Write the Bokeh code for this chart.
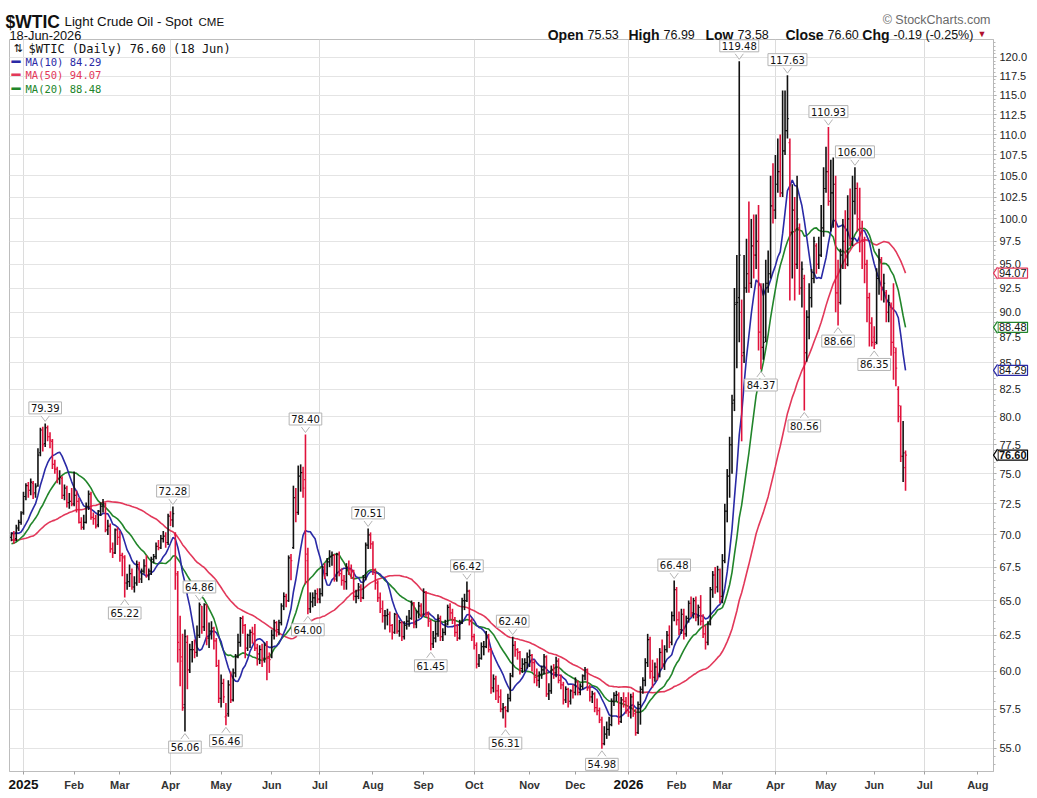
import numpy as np
import pandas as pd
from bokeh.plotting import figure
from bokeh.models import FixedTicker, Label, ColumnDataSource, PrintfTickFormatter, Range1d
from bokeh.core.properties import value
from bokeh.embed import file_html
from bokeh.resources import INLINE

# ---------------------------------------------------------------- calendar
market_holidays = [
    "2024-12-25", "2025-01-01", "2025-01-20", "2025-02-17", "2025-04-18",
    "2025-05-26", "2025-06-19", "2025-07-04", "2025-09-01", "2025-11-27",
    "2025-12-25", "2026-01-01", "2026-01-19", "2026-02-16", "2026-04-03",
    "2026-05-25", "2026-06-19", "2026-07-03",
]
sessions = pd.bdate_range("2024-12-24", "2026-08-31", freq="C", holidays=market_holidays)

# closes before the first bar (feed the moving averages)
warmup_closes = [
    73.8, 70.6, 70.4, 70.7, 69.2, 70.6, 72.1, 70.8, 70.2, 71.8, 67.4, 67.2, 68.6, 69.3,
    69.5, 71.5, 72.0, 71.7, 72.4, 70.4, 68.0, 68.1, 68.4, 68.7, 67.0, 69.2, 69.4, 68.9,
    70.1, 71.2, 68.9, 68.8, 68.7, 68.0,
    68.1, 69.9, 68.5, 68.3, 67.2, 68.4, 68.6, 70.3, 70.0, 71.3, 70.7, 70.1, 70.6, 69.9,
    69.5, 69.2,
]

# ---------------------------------------------------------------- daily OHLC ($WTIC)
opens = [
    69.8, 70.0, 69.7, 70.5, 71.0,
    71.8, 73.1, 74.0, 73.6, 74.2, 73.4, 74.0, 76.8, 78.8, 77.6, 79.0, 78.2, 77.8, 75.8, 75.4, 74.6, 74.6, 73.2, 73.8, 72.6, 72.7,
    72.5, 73.2, 72.7, 71.0, 70.6, 71.0, 72.3, 73.3, 71.4, 71.3, 70.8, 71.9, 72.3, 72.5, 70.4, 70.7, 68.9, 68.6, 70.4,
    69.8, 68.4, 68.2, 66.3, 66.4, 67.0, 66.0, 66.3, 67.7, 66.6, 67.2, 67.6, 66.9, 67.2, 68.1, 68.3, 69.1, 69.0, 69.7, 69.9, 69.4,
    71.5, 71.2, 70.0, 66.9, 61.5, 61.0, 57.8, 62.0, 60.1, 61.5, 61.5, 61.3, 62.5, 64.6, 63.1, 64.7, 62.3, 62.8, 63.0, 62.1, 60.4,
    58.2, 59.2, 57.0, 57.2, 59.1, 58.1, 59.9, 61.0, 62.0, 63.7, 63.2, 61.6, 62.5, 62.7, 62.6, 61.6, 61.2, 61.5, 60.9, 61.8, 60.9,
    61.0, 62.5, 63.4, 62.9, 63.4, 64.6, 65.3, 65.0, 68.2, 69.0, 73.0, 71.8, 74.8, 75.1, 74.5, 68.0, 64.4, 64.9, 65.2, 65.5,
    65.1, 65.5, 67.5, 67.0, 67.9, 68.3, 68.4, 66.6, 68.5, 67.0, 66.5, 66.4, 67.5, 67.3, 67.2, 65.3, 65.3, 66.0, 65.2, 66.7, 69.2, 70.0,
    69.3, 67.3, 66.3, 65.2, 64.4, 63.9, 63.9, 64.0, 63.2, 62.7, 64.0, 62.8, 63.4, 62.4, 63.2, 63.5, 63.7, 64.8, 63.3, 64.2, 64.6,
    64.0, 65.6, 64.0, 63.5, 61.9, 62.3, 62.6, 63.7, 62.4, 62.7, 63.3, 64.5, 64.1, 63.6, 62.7, 62.3, 63.4, 65.0, 65.0, 65.7, 63.5,
    62.4, 61.8, 60.5, 60.9, 61.7, 61.7, 62.5, 61.5, 58.9, 59.5, 58.7, 58.3, 57.5, 57.6, 57.4, 58.2, 59.7, 61.8, 61.5, 61.3, 60.2, 60.5, 60.6,
    61.0, 61.1, 60.6, 59.6, 59.4, 59.8, 60.1, 61.0, 58.5, 58.7, 60.1, 59.9, 60.7, 59.4, 59.1, 58.1, 58.8, 58.0, 58.7,
    58.6, 59.3, 58.6, 59.0, 59.7, 60.1, 58.9, 58.3, 58.5, 57.6, 57.4, 56.8, 55.3, 55.9, 56.2, 56.5, 58.0, 58.4, 58.4, 56.7, 58.1, 58.0,
    57.4, 57.3, 58.3, 57.2, 56.0, 57.8, 58.8, 59.4, 60.6, 62.2, 60.0, 59.6, 60.3, 59.8, 61.3, 60.5, 61.5, 62.5, 62.0, 63.9,
    65.8, 63.6, 62.9, 64.0, 62.6, 63.7, 64.8, 64.1, 65.0, 63.8, 64.5, 63.5, 62.6, 62.0, 63.3, 65.8, 66.9, 66.0, 67.3,
    65.3, 68.0, 71.9, 74.8, 77.5, 81.5, 91.0, 91.5, 90.0, 86.0, 92.5, 94.0, 93.0, 97.0, 96.0, 97.5, 88.0, 86.5, 87.5, 93.0, 94.0, 101.5,
    101.0, 104.0, 105.5, 103.0, 108.0, 110.5, 109.0, 98.5, 101.0, 95.0, 99.0, 92.5, 93.5, 86.0, 89.5, 91.5, 93.5, 97.0, 95.0, 96.0, 99.0,
    103.5, 105.5, 102.0, 103.0, 104.0, 92.0, 91.0, 96.0, 97.5, 95.0, 100.0, 97.5, 102.0, 103.5, 100.0, 98.5, 97.5, 95.0, 91.5, 88.9,
    87.5, 87.0, 93.5, 95.5, 92.5, 92.0, 90.0, 90.5, 87.0, 86.0, 82.5, 80.0, 76.5, 75.53,
]
highs = [
    70.2, 70.3, 70.8, 71.2, 71.9,
    73.5, 74.2, 74.3, 74.6, 74.4, 74.2, 77.2, 79.0, 79.1, 79.39, 79.2, 78.6, 78.0, 76.2, 75.6, 75.3, 74.8, 74.1, 74.0, 73.4, 73.8,
    75.2, 73.6, 73.0, 71.4, 71.6, 72.6, 73.6, 73.5, 71.8, 71.6, 72.0, 72.6, 72.9, 72.6, 71.2, 70.9, 69.4, 70.5, 70.6,
    70.3, 68.6, 68.4, 67.0, 67.7, 67.4, 66.8, 68.0, 67.9, 67.4, 68.1, 68.4, 67.4, 68.3, 68.5, 69.4, 69.6, 70.0, 70.3, 70.2, 71.7,
    71.9, 72.28, 70.2, 67.2, 63.9, 62.6, 62.9, 62.5, 61.9, 62.1, 62.2, 63.2, 64.86, 64.6, 64.8, 64.7, 63.4, 63.5, 63.1, 62.3, 60.8,
    59.8, 59.5, 57.9, 59.4, 60.0, 60.2, 61.2, 62.6, 63.8, 63.9, 63.3, 62.6, 62.9, 63.1, 63.3, 61.9, 61.8, 61.9, 62.0, 62.1, 61.3,
    62.9, 63.6, 63.5, 63.6, 64.8, 65.6, 65.5, 68.4, 68.5, 74.0, 73.8, 75.7, 75.8, 75.6, 78.40, 69.0, 65.6, 65.6, 65.8, 65.9,
    65.9, 67.6, 67.8, 68.2, 68.8, 68.7, 68.5, 68.6, 68.7, 67.4, 66.9, 67.8, 68.0, 67.7, 67.3, 65.8, 66.3, 66.2, 66.9, 69.4, 70.51, 70.2,
    69.5, 67.4, 66.5, 65.6, 65.0, 64.3, 64.4, 64.2, 63.3, 64.1, 64.0, 63.6, 63.5, 63.5, 63.9, 64.3, 65.0, 64.9, 64.3, 64.9, 64.8,
    65.9, 65.7, 64.2, 63.6, 62.8, 63.5, 64.0, 63.9, 63.0, 63.6, 64.7, 64.8, 64.4, 63.8, 63.3, 63.6, 65.2, 65.5, 66.42, 65.8, 63.7,
    62.6, 62.0, 61.2, 62.0, 62.1, 62.8, 62.6, 61.6, 59.8, 59.7, 59.1, 58.8, 57.9, 57.7, 58.5, 59.9, 62.40, 62.1, 61.6, 61.4, 60.9, 60.9, 61.3,
    61.5, 61.2, 60.8, 60.2, 60.0, 60.4, 61.2, 61.1, 59.2, 60.4, 60.5, 61.0, 60.9, 59.8, 59.3, 59.0, 58.9, 58.8, 59.1,
    59.6, 59.4, 59.2, 59.8, 60.3, 60.2, 59.1, 58.7, 58.6, 58.2, 57.6, 57.0, 56.4, 56.7, 57.0, 58.2, 58.6, 58.7, 58.6, 58.3, 58.6, 58.3,
    58.6, 58.5, 58.6, 57.5, 58.0, 59.0, 59.6, 60.9, 62.6, 62.4, 60.8, 60.6, 60.9, 61.6, 62.2, 61.8, 62.8, 63.2, 64.2, 66.48,
    66.0, 64.2, 64.4, 64.4, 63.9, 65.0, 65.3, 65.2, 65.3, 64.7, 65.4, 64.0, 63.2, 63.5, 66.0, 67.2, 67.5, 67.6, 67.4,
    68.5, 72.5, 75.4, 78.2, 82.0, 92.5, 96.0, 119.48, 91.3, 96.0, 97.8, 102.0, 100.0, 100.5, 100.5, 101.6, 93.0, 93.0, 95.5, 96.5, 105.0, 106.5,
    107.5, 109.5, 110.0, 115.6, 115.6, 117.63, 109.5, 104.0, 102.5, 105.0, 99.5, 95.3, 93.9, 90.2, 93.0, 94.5, 98.0, 97.3, 98.0, 101.6, 106.0,
    108.5, 110.93, 106.9, 107.2, 105.0, 95.5, 96.7, 100.0, 101.0, 102.7, 103.5, 105.0, 106.00, 104.2, 103.6, 99.8, 98.0, 95.5, 92.0, 89.5,
    88.6, 94.6, 96.7, 95.8, 94.0, 92.3, 91.8, 91.0, 93.0, 86.5, 82.8, 81.0, 79.6, 76.99,
]
lows = [
    69.5, 69.3, 69.5, 70.3, 70.8,
    71.6, 72.8, 73.0, 73.2, 72.9, 73.0, 73.9, 76.5, 76.9, 77.3, 77.8, 77.2, 75.4, 75.0, 74.2, 74.1, 72.9, 72.8, 72.2, 72.1, 72.3,
    72.3, 71.8, 70.9, 70.4, 70.4, 70.9, 72.0, 71.2, 70.8, 70.5, 70.6, 71.5, 71.8, 70.2, 70.0, 68.6, 68.2, 68.5, 69.2,
    67.9, 66.8, 65.22, 65.8, 66.0, 65.8, 65.6, 66.1, 66.3, 66.3, 67.0, 66.7, 66.5, 66.9, 67.8, 68.1, 68.8, 68.9, 69.4, 69.0, 69.2,
    70.7, 70.6, 65.8, 60.6, 59.0, 57.4, 56.06, 58.8, 59.9, 60.6, 60.9, 61.0, 62.3, 62.6, 62.8, 61.8, 61.6, 62.2, 61.5, 60.3, 57.9,
    57.6, 57.9, 56.46, 57.0, 57.9, 58.0, 59.6, 60.9, 61.7, 62.6, 60.9, 61.4, 61.6, 61.9, 61.4, 60.4, 60.5, 60.3, 60.6, 59.4, 59.9,
    60.9, 62.2, 62.4, 62.5, 63.2, 64.3, 64.5, 64.9, 66.5, 68.9, 71.0, 71.6, 73.5, 73.0, 66.2, 64.00, 64.1, 64.5, 64.6, 64.8,
    64.8, 65.3, 66.6, 66.8, 67.5, 67.6, 66.4, 66.4, 66.8, 66.1, 65.8, 65.8, 66.9, 66.6, 65.0, 64.8, 65.1, 64.9, 65.1, 66.5, 68.9, 68.9,
    66.9, 65.8, 64.9, 64.1, 63.4, 62.9, 63.2, 62.7, 62.2, 62.6, 62.6, 62.4, 62.1, 62.2, 62.9, 63.1, 63.6, 63.0, 63.0, 63.7, 63.8,
    63.9, 63.8, 63.1, 61.45, 61.6, 62.0, 62.4, 62.1, 62.1, 62.5, 63.2, 63.6, 63.3, 62.4, 62.1, 62.2, 63.3, 64.3, 64.9, 63.2, 62.1,
    61.5, 60.2, 60.3, 60.8, 61.1, 61.6, 61.3, 58.5, 58.6, 58.1, 57.9, 57.3, 56.9, 56.31, 57.3, 58.0, 59.6, 61.0, 60.8, 59.8, 59.9, 60.0, 60.2,
    60.3, 60.0, 59.2, 59.0, 58.9, 59.5, 59.8, 58.3, 58.1, 58.5, 59.5, 59.6, 59.2, 58.8, 57.8, 57.9, 57.6, 57.8, 58.2,
    58.4, 58.4, 58.4, 58.8, 59.4, 58.7, 58.0, 57.9, 57.3, 57.1, 56.6, 54.98, 55.2, 55.6, 55.8, 56.4, 57.7, 58.0, 56.5, 56.6, 57.6, 57.2,
    57.0, 56.9, 57.0, 55.8, 55.9, 56.5, 58.5, 59.0, 60.3, 59.5, 58.9, 59.3, 59.4, 59.6, 60.2, 60.1, 61.3, 61.6, 61.8, 63.5,
    63.2, 62.5, 62.6, 62.2, 62.4, 63.4, 63.8, 63.7, 63.5, 63.2, 63.2, 62.3, 61.5, 61.8, 63.2, 65.2, 65.5, 65.6, 64.8,
    64.8, 67.8, 71.0, 73.0, 75.0, 80.5, 84.5, 87.0, 77.8, 85.0, 92.0, 92.0, 92.5, 93.5, 94.5, 86.2, 84.37, 85.3, 87.0, 92.0, 93.5, 99.5,
    100.0, 103.0, 102.5, 102.5, 107.5, 109.5, 91.2, 93.5, 91.2, 94.5, 91.8, 90.5, 80.56, 85.1, 87.3, 90.5, 93.0, 94.0, 94.5, 95.8, 98.0,
    103.0, 101.5, 98.6, 99.0, 90.0, 88.66, 90.8, 94.5, 94.5, 94.8, 97.0, 97.0, 100.5, 98.6, 96.3, 94.5, 93.0, 89.0, 86.6, 86.6,
    86.35, 86.8, 91.8, 91.2, 91.0, 89.0, 89.0, 85.7, 83.4, 82.8, 79.5, 76.0, 74.3, 73.58,
]
closes = [
    70.1, 69.6, 70.6, 71.0, 71.7,
    73.1, 74.0, 73.6, 74.3, 73.3, 73.9, 76.6, 78.8, 77.5, 79.0, 78.2, 77.9, 75.8, 75.4, 74.6, 74.7, 73.2, 73.8, 72.6, 72.7, 72.5,
    73.2, 72.7, 71.0, 70.6, 71.0, 72.3, 73.3, 71.4, 71.3, 70.7, 71.9, 72.3, 72.5, 70.4, 70.7, 68.9, 68.6, 70.4, 69.8,
    68.4, 68.3, 66.3, 66.4, 67.0, 66.0, 66.3, 67.7, 66.6, 67.2, 67.6, 66.9, 67.2, 68.1, 68.3, 69.1, 69.0, 69.7, 69.9, 69.4, 71.5,
    71.2, 71.7, 67.0, 62.0, 60.7, 57.6, 62.4, 60.1, 61.5, 61.5, 61.3, 62.5, 64.7, 63.1, 64.7, 62.3, 62.8, 63.0, 62.1, 60.4, 58.2,
    59.2, 58.3, 57.1, 59.1, 58.1, 59.9, 61.0, 62.0, 63.7, 63.2, 61.6, 62.5, 62.7, 62.6, 61.6, 61.2, 61.5, 60.9, 61.8, 60.9, 60.8,
    62.5, 63.4, 62.9, 63.4, 64.6, 65.3, 65.0, 68.2, 68.0, 73.0, 71.8, 74.8, 75.1, 73.8, 68.5, 64.4, 64.9, 65.2, 65.5, 65.1,
    65.5, 67.5, 67.0, 67.9, 68.3, 68.4, 66.6, 68.5, 67.0, 66.5, 66.4, 67.5, 67.3, 67.2, 65.3, 65.3, 66.0, 65.2, 66.7, 69.2, 70.0, 69.3,
    67.3, 66.3, 65.2, 64.4, 63.9, 63.9, 64.0, 63.2, 62.7, 64.0, 62.8, 63.4, 62.4, 63.2, 63.5, 63.7, 64.8, 63.3, 64.2, 64.6, 64.0,
    65.6, 64.0, 63.5, 61.9, 62.3, 62.6, 63.7, 62.4, 62.7, 63.3, 64.5, 64.1, 63.6, 62.7, 62.3, 63.4, 65.0, 65.0, 65.7, 63.5, 62.4,
    61.8, 60.5, 60.9, 61.7, 61.7, 62.5, 61.5, 58.9, 59.5, 58.7, 58.3, 57.5, 57.6, 57.4, 58.2, 59.7, 61.8, 61.5, 61.3, 60.2, 60.5, 60.6, 61.0,
    61.1, 60.6, 59.6, 59.4, 59.8, 60.1, 61.0, 58.5, 58.7, 60.1, 59.9, 60.7, 59.4, 59.1, 58.1, 58.8, 58.0, 58.7, 58.6,
    59.3, 58.6, 59.0, 59.7, 60.1, 58.9, 58.3, 58.5, 57.6, 57.4, 56.8, 55.3, 55.9, 56.2, 56.5, 58.0, 58.4, 58.45, 56.7, 58.1, 58.0, 57.4,
    57.3, 58.3, 57.2, 56.0, 57.8, 58.8, 59.4, 60.6, 62.2, 60.0, 59.6, 60.3, 59.8, 61.3, 60.5, 61.5, 62.5, 62.0, 63.9, 65.8,
    63.6, 62.9, 64.0, 62.6, 63.7, 64.8, 64.1, 65.0, 63.8, 64.5, 63.5, 62.6, 62.0, 63.3, 65.8, 66.9, 66.0, 67.3, 65.3,
    68.0, 71.9, 74.8, 77.5, 81.2, 90.8, 91.0, 96.0, 85.7, 92.5, 94.0, 93.0, 97.0, 96.0, 97.5, 88.0, 86.5, 87.0, 93.0, 94.0, 101.5, 101.0,
    104.0, 105.5, 103.0, 108.0, 110.5, 112.0, 98.5, 101.0, 95.0, 100.0, 92.5, 94.5, 86.0, 89.5, 91.5, 93.5, 97.5, 95.0, 96.0, 99.0, 103.5,
    105.5, 102.0, 103.0, 104.0, 92.0, 91.0, 96.0, 97.5, 95.0, 100.0, 97.5, 102.0, 103.5, 100.0, 98.5, 97.5, 95.0, 91.5, 88.9, 87.0,
    86.8, 93.5, 95.5, 92.5, 93.0, 90.0, 91.0, 87.0, 86.5, 84.5, 81.0, 76.5, 76.79, 76.60,
]

# labelled swing highs / lows
callout_dates = [
    "2025-01-15", "2025-03-05", "2025-04-02", "2025-04-09", "2025-04-17", "2025-05-05",
    "2025-06-23", "2025-06-24", "2025-07-30", "2025-09-05", "2025-09-26", "2025-10-20",
    "2025-10-23", "2025-12-16", "2026-01-30", "2026-03-11", "2026-03-24", "2026-04-09",
    "2026-04-20", "2026-05-04", "2026-05-08", "2026-05-19", "2026-06-01",
]
callout_values = [
    79.39, 65.22, 72.28, 56.06, 64.86, 56.46,
    78.40, 64.00, 70.51, 61.45, 66.42, 56.31,
    62.40, 54.98, 66.48, 119.48, 84.37, 117.63,
    80.56, 110.93, 88.66, 106.00, 86.35,
]
callout_sides = [
    "high", "low", "high", "low", "high", "low",
    "high", "low", "high", "low", "high", "low",
    "high", "low", "high", "high", "low", "high",
    "low", "high", "low", "high", "low",
]

# current moving-average readings shown in the legend and the axis tags
ma_periods = [10, 50, 20]
ma_last = [84.29, 94.07, 88.48]
ma_colors = ["#2a2aa6", "#e2385a", "#21852a"]

y_tick_values = [55.0 + 2.5 * i for i in range(27)]
month_names = ["", "Feb", "Mar", "Apr", "May", "Jun", "Jul", "Aug", "Sep", "Oct", "Nov", "Dec"]

UP_COLOR = "#111111"
DOWN_COLOR = "#e0123c"
FONT = "Liberation Sans"
MONO = "DejaVu Sans Mono"

# ---------------------------------------------------------------- derived series
n = len(closes)
assert len(opens) == n and len(highs) == n and len(lows) == n, (len(opens), len(highs), len(lows), n)
dates = sessions[:n]
pos = np.arange(n)

series = pd.Series(warmup_closes + closes, dtype=float)
ma = {k: series.rolling(k).mean().to_numpy()[-n:] for k in ma_periods}

prev_close = np.array([warmup_closes[-1]] + closes[:-1])
bar_colors = np.where(np.array(closes) >= prev_close, UP_COLOR, DOWN_COLOR)
last_date = dates[-1]
chg = closes[-1] - closes[-2]

# ---------------------------------------------------------------- figure
W, H = 1037, 798
FL, FR, FT, FB = 9, 44, 39, 27          # frame margins
frame_w, frame_h = W - FL - FR, H - FT - FB
y_lo, y_hi = 53.59, 122.46
x_lo, x_hi = -0.81, 407.5
px_per_ln = frame_h / np.log(y_hi / y_lo)
px_per_bar = frame_w / (x_hi - x_lo)

p = figure(width=W, height=H, output_backend="svg", toolbar_location=None,
           y_axis_type="log", y_axis_location="right",
           x_range=Range1d(x_lo, x_hi), y_range=Range1d(y_lo, y_hi),
           min_border_left=FL, min_border_right=FR, min_border_top=FT, min_border_bottom=FB)
p.background_fill_color = "white"
p.border_fill_color = "white"
p.outline_line_color = "#bdbdbd"


def shift(v, px):
    """price that sits px pixels above v on the log scale"""
    return v * np.exp(px / px_per_ln)


def from_canvas(xc, yc):
    """data position of a point given in page pixels"""
    return x_lo + (xc - FL) / px_per_bar, shift(y_hi, FT - yc)


# y axis (log, every 2.5)
p.yaxis.ticker = FixedTicker(ticks=y_tick_values,
                             minor_ticks=[54.0 + 0.5 * i for i in range(138)])
p.yaxis.formatter = PrintfTickFormatter(format="%.1f")
p.yaxis.major_label_text_font = FONT
p.yaxis.major_label_text_font_size = "11px"
p.yaxis.major_label_text_color = "#222222"
p.yaxis.axis_line_color = "#b8b8b8"
p.yaxis.major_tick_line_color = "#a0a0a0"
p.yaxis.minor_tick_line_color = "#b8b8b8"
p.yaxis.major_tick_out = 3
p.yaxis.major_tick_in = 0
p.yaxis.minor_tick_out = 2
p.yaxis.minor_tick_in = 0
p.yaxis.major_label_standoff = 3
p.ygrid.grid_line_color = "#e4e4e4"

# x axis: month starts, quarterly grid
first_idx = pd.Series(np.arange(len(sessions)), index=sessions)
firsts = first_idx.groupby([sessions.year, sessions.month]).first()
month_ticks, month_labels, year_ticks, quarter_ticks = [], {}, [], []
for (yr, mo), k in firsts.items():
    if (yr, mo) < (2025, 1) or k > x_hi:
        continue
    month_ticks.append(int(k))
    month_labels[int(k)] = month_names[mo - 1]
    if mo == 1:
        year_ticks.append((int(k), str(yr)))
    if mo in (1, 4, 7, 10):
        quarter_ticks.append(int(k))

p.xaxis.ticker = FixedTicker(ticks=month_ticks)
p.xaxis.major_label_overrides = month_labels
p.xaxis.minor_tick_line_color = None
p.xaxis.major_tick_out = 3
p.xaxis.major_tick_in = 0
p.xaxis.major_tick_line_color = "#a0a0a0"
p.xaxis.axis_line_color = "#bdbdbd"
p.xaxis.major_label_text_font = FONT
p.xaxis.major_label_text_font_size = "11px"
p.xaxis.major_label_text_font_style = "bold"
p.xaxis.major_label_text_color = "#333333"
p.xaxis.major_label_standoff = 4
p.xgrid.ticker = FixedTicker(ticks=quarter_ticks)
p.xgrid.grid_line_color = "#dcdcdc"

# year labels under the month axis
p.text(x=[k for k, _ in year_ticks], y=[shift(y_lo, -12.5)] * len(year_ticks),
       text=[t for _, t in year_ticks], text_font=value(FONT), text_font_size=value("13.5px"),
       text_font_style="bold", text_color="#111111", text_align="center",
       text_baseline="middle", level="annotation")


# ---------------------------------------------------------------- header above the chart
def htext(xc, yc, txt, size, style="normal", color="#111111", font=FONT, align="left"):
    xd, yd = from_canvas(xc, yc)
    p.text(x=[xd], y=[yd], text=[txt], text_font=value(font), text_font_size=value(size),
           text_font_style=style, text_color=color, text_align=align,
           text_baseline="alphabetic", level="annotation")


htext(5, 21, "$WTIC", "17.5px", "bold")
htext(64, 21, "Light Crude Oil - Spot", "13.3px")
htext(198, 21, "CME", "11.5px")
htext(9, 35, last_date.strftime("%d-%b-%Y"), "12.8px")
htext(990, 19, "\u00a9 StockCharts.com", "12.5px", color="#6a6a6a", align="right")
# quote line: bold caption right-aligned against its value
quote = [("Open", f"{opens[-1]:.2f}", 587), ("High", f"{highs[-1]:.2f}", 663),
         ("Low", f"{lows[-1]:.2f}", 737), ("Close", f"{closes[-1]:.2f}", 827),
         ("Chg", f"{chg:.2f} ({chg / closes[-2] * 100:.2f}%)", 893)]
for cap, val, xv in quote:
    htext(xv - 4, 34, cap, "14px", "bold", align="right")
    htext(xv, 34, val, "12.5px")
htext(977, 33, "\u25bc", "9px", color="#b0102e")

# ---------------------------------------------------------------- moving averages
for k, col in [(50, ma_colors[1]), (20, ma_colors[2]), (10, ma_colors[0])]:
    p.line(pos, ma[k], line_color=col, line_width=1.6)

# ---------------------------------------------------------------- OHLC bars
src = ColumnDataSource(dict(x=pos, xl=pos - 0.55, xr=pos + 0.55, o=opens, h=highs,
                            l=lows, c=closes, col=bar_colors))
p.segment(x0="x", y0="l", x1="x", y1="h", line_color="col", line_width=1.6, source=src)
p.segment(x0="xl", y0="o", x1="x", y1="o", line_color="col", line_width=1.2, source=src)
p.segment(x0="x", y0="c", x1="xr", y1="c", line_color="col", line_width=1.2, source=src)

# ---------------------------------------------------------------- swing labels
cx, cy, ctext, notch_fill_x, notch_fill_y, notch_x, notch_y = [], [], [], [], [], [], []
half = 1.7
for d, v, side in zip(callout_dates, callout_values, callout_sides):
    k = dates.get_loc(pd.Timestamp(d))
    s = 1 if side == "high" else -1
    cx.append(k)
    cy.append(shift(v, s * 15.5))
    ctext.append(f"{v:.2f}")
    notch_fill_x.append([k - half, k - half, k, k + half, k + half])
    notch_fill_y.append([shift(v, s * 9), shift(v, s * 7.5), shift(v, s * 2),
                         shift(v, s * 7.5), shift(v, s * 9)])
    notch_x.append([k - half, k, k + half])
    notch_y.append([shift(v, s * 7.5), shift(v, s * 2), shift(v, s * 7.5)])
p.text(x=cx, y=cy, text=ctext, text_font=value("DejaVu Sans"), text_font_size=value("10px"),
       text_color="#111111", text_align="center", text_baseline="middle",
       background_fill_color="white", border_line_color="#b4b4b4", border_line_width=1,
       padding=2, level="annotation")
p.patches(notch_fill_x, notch_fill_y, fill_color="white", line_color=None, level="annotation")
p.multi_line(notch_x, notch_y, line_color="#b4b4b4", line_width=1, level="annotation")

# ---------------------------------------------------------------- price tags on the axis
tag_vals = ma_last + [closes[-1]]
tag_cols = ma_colors + ["#000000"]
tag_x = x_hi + 4.5 / px_per_bar
p.text(x=[tag_x] * 4, y=tag_vals, text=[f"{v:.2f}" for v in tag_vals],
       text_font=value(FONT), text_font_size=value("11px"),
       text_font_style=["normal", "normal", "normal", "bold"],
       text_color="#111111", text_align="left", text_baseline="middle",
       background_fill_color="white", border_line_color=tag_cols, border_line_width=1.2,
       padding=1, level="annotation")
ptr_x = [[x_hi + 4 / px_per_bar, x_hi, x_hi + 4 / px_per_bar]] * 4
ptr_y = [[shift(v, 6), v, shift(v, -6)] for v in tag_vals]
p.patches(ptr_x, ptr_y, fill_color="white", line_color=None, level="annotation")
p.multi_line(ptr_x, ptr_y, line_color=tag_cols, line_width=1.2, level="annotation")


# ---------------------------------------------------------------- legend (inside the frame)
def ftext(x_canvas, y_canvas, txt, size, color="#111111", font=MONO):
    p.add_layout(Label(x=x_canvas - FL, y=frame_h - (y_canvas - FT), x_units="screen",
                       y_units="screen", text=txt, text_font=font, text_font_size=size,
                       text_color=color, text_align="left", text_baseline="middle"))


ftext(13, 48, "\u21c5", "11px", font="DejaVu Sans")
ftext(28, 48, f"$WTIC (Daily) {closes[-1]:.2f} ({last_date.day} {last_date.strftime('%b')})", "12px")
for i, (per, v, col) in enumerate(zip(ma_periods, ma_last, ma_colors)):
    yc = 61 + i * 13.5
    ftext(11, yc, "\u2501", "15px", color=col)
    ftext(25, yc, f"MA({per}) {v:.2f}", "10.5px", color=col)

open("out.html", "w").write(file_html(p, INLINE))
